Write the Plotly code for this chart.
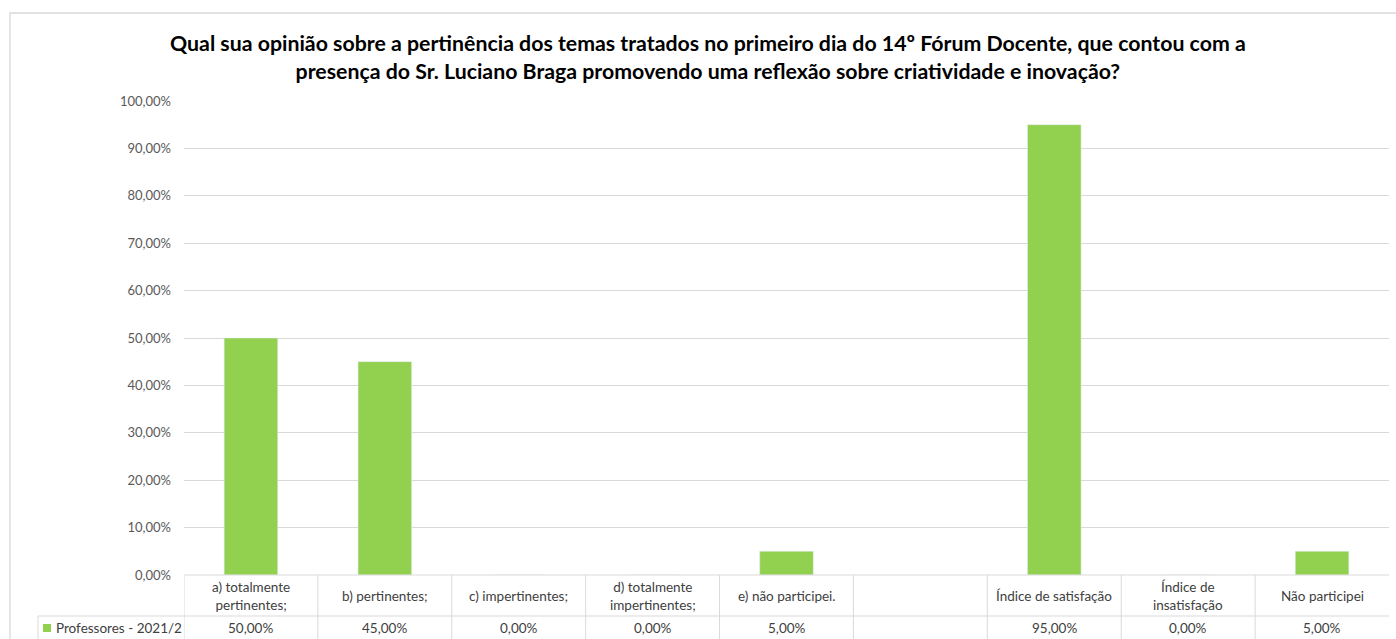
import plotly.graph_objects as go

categories = ["a) totalmente<br>pertinentes;", "b) pertinentes;", "c) impertinentes;",
              "d) totalmente<br>impertinentes;", "e) não participei.", " ",
              "Índice de satisfação", "Índice de<br>insatisfação", "Não participei"]
values = [0.50, 0.45, 0.0, 0.0, 0.05, None, 0.95, 0.0, 0.05]
value_labels = ["50,00%", "45,00%", "0,00%", "0,00%", "5,00%", "", "95,00%", "0,00%", "5,00%"]
series_name = "Professores - 2021/2"
y_ticks = [0, 0.1, 0.2, 0.3, 0.4, 0.5, 0.6, 0.7, 0.8, 0.9, 1.0]
title_text = ("<b>Qual sua opinião sobre a pertinência dos temas tratados no primeiro dia do 14º Fórum Docente, que contou com a<br>"
              "presença do Sr. Luciano Braga promovendo uma reflexão sobre criatividade e inovação?</b>")

W, H = 1396, 639
L, R, T, B = 184, 7, 101, 64
PW, PH = W - L - R, H - T - B
FONT = "Lato"
GREEN = "#92d050"
LINE = "#d9d9d9"

def px_x(px):
    return (px - L) / PW

def px_y(py):
    return (H - B - py) / PH

fig = go.Figure()
fig.add_trace(go.Bar(x=categories, y=values, name=series_name, marker_color=GREEN,
                     showlegend=False, hoverinfo="x+y"))

shapes = []
annotations = []
n = len(categories)
# outer chart border
shapes.append(dict(type="rect", xref="paper", yref="paper", x0=px_x(10), x1=px_x(1420),
                   y0=px_y(660), y1=px_y(13), line=dict(color=LINE, width=1.3)))
# table horizontal lines
shapes.append(dict(type="line", xref="x", yref="paper", x0=-0.5, x1=n - 0.5,
                   y0=0, y1=0, line=dict(color=LINE, width=1)))
shapes.append(dict(type="line", xref="paper", yref="paper", x0=px_x(38), x1=1,
                   y0=px_y(616), y1=px_y(616), line=dict(color=LINE, width=1)))
shapes.append(dict(type="line", xref="paper", yref="paper", x0=px_x(38), x1=px_x(38),
                   y0=px_y(616), y1=px_y(645), line=dict(color=LINE, width=1)))
for i in range(n):
    shapes.append(dict(type="line", xref="x", yref="paper", x0=i - 0.5, x1=i - 0.5,
                       y0=0, y1=px_y(645), line=dict(color=LINE, width=1)))

TF = dict(family=FONT, size=13.5, color="#404040")
for cat, lab in zip(categories, value_labels):
    annotations.append(dict(x=cat, xref="x", y=px_y(595.5), yref="paper", text=cat,
                            showarrow=False, font=TF, align="center", yanchor="middle"))
    if lab:
        annotations.append(dict(x=cat, xref="x", y=px_y(628), yref="paper", text=lab,
                                showarrow=False, font=TF, yanchor="middle"))
# legend key
shapes.append(dict(type="rect", xref="paper", yref="paper", x0=px_x(43), x1=px_x(51),
                   y0=px_y(632), y1=px_y(624), fillcolor=GREEN, line=dict(width=0)))
annotations.append(dict(x=px_x(54), xref="paper", y=px_y(628), yref="paper", text=series_name,
                        showarrow=False, xanchor="left", yanchor="middle", font=TF))
# title
annotations.append(dict(x=px_x(708), xref="paper", y=px_y(57), yref="paper", text=title_text,
                        showarrow=False, xanchor="center", yanchor="middle",
                        font=dict(family=FONT, size=21.3, color="#000000"), align="center"))

fig.update_layout(
    width=W, height=H, margin=dict(l=L, r=R, t=T, b=B),
    paper_bgcolor="white", plot_bgcolor="white",
    separators=",.", bargap=0.6,
    font=dict(family=FONT, color="#595959"),
    xaxis=dict(showticklabels=False, showgrid=False, zeroline=False, showline=False,
               ticks="", range=[-0.5, n - 0.5]),
    yaxis=dict(range=[0, 1], tickvals=y_ticks, tickformat=".2%", showgrid=True,
               gridcolor=LINE, gridwidth=1, zeroline=False, showline=False,
               tickfont=dict(family=FONT, size=13, color="#595959"), ticklabelstandoff=12),
    shapes=shapes, annotations=annotations,
)
fig.write_html("out.html", config={"displayModeBar": False},
               post_script="document.body.style.margin='0';document.body.style.overflow='hidden';")
